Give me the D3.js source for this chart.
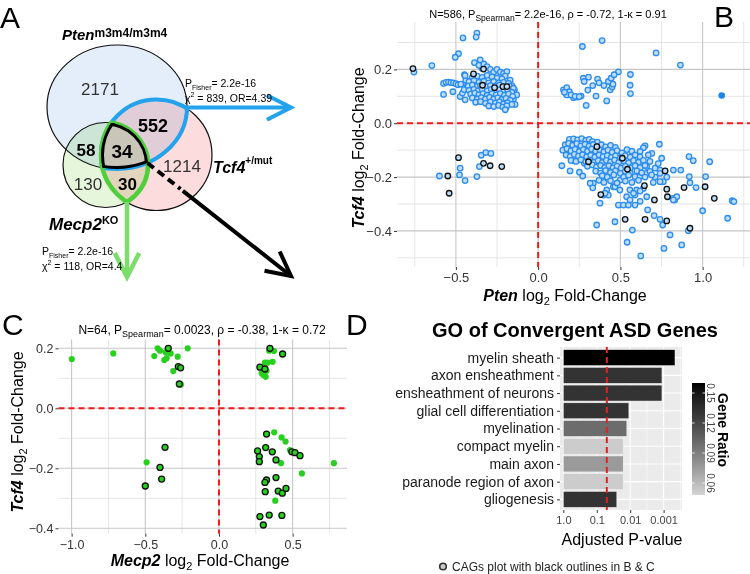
<!DOCTYPE html>
<meta charset="utf-8">
<style>
  body { margin: 0; background: #fff; }
  svg { font-family: "Liberation Sans", Arial, Helvetica, sans-serif; }
  .grid-major { stroke: #c6c6c6; stroke-width: 1.1; }
  .grid-minor { stroke: #e0e0e0; stroke-width: 0.8; }
  .zero { stroke: #ee1c1c; stroke-width: 2; stroke-dasharray: 6,4; fill: none; }
  .tag { font-size: 30px; fill: #000; }
</style>
<svg width="750" height="574"></svg>
<script src="https://d3js.org/d3.v7.min.js"></script>
<script>

// ---------------- data ----------------
// panel A : venn counts
var vennRegions = ["Pten only", "Pten+Tcf4", "Tcf4 only", "Pten+Mecp2", "all three", "Mecp2 only", "Tcf4+Mecp2"];
var vennCounts  = [2171, 552, 1214, 58, 34, 130, 30];

// panel B : Pten vs Tcf4 log2 fold-change
var bOpen = [
  [-0.755,0.19],[-0.646,0.214],[-0.457,0.317],[-0.372,0.335],[-0.377,0.32],[-0.484,0.258],[-0.504,0.245],
  [-0.575,0.148],[-0.56,0.152],[-0.545,0.153],[-0.53,0.151],[-0.515,0.15],[-0.5,0.147],[-0.487,0.143],[-0.47,0.145],
  [-0.575,0.107],[-0.518,0.117],[-0.474,0.099],[-0.46,0.112],[-0.45,0.125],[-0.444,0.087],[-0.448,0.18],[-0.44,0.16],[-0.43,0.14],[-0.444,0.177],
  [-0.387,0.225],[-0.352,0.235],[-0.342,0.204],[-0.36,0.215],[-0.33,0.22],[-0.31,0.21],[-0.29,0.2],[-0.27,0.19],[-0.25,0.2],
  [-0.23,0.19],[-0.21,0.185],[-0.19,0.192],[-0.2,0.175],[-0.17,0.16],[-0.16,0.14],[-0.144,0.124],[-0.13,0.105],[-0.194,0.059],[-0.15,0.09],[-0.14,0.07],
  [-0.40,0.17],[-0.37,0.175],[-0.34,0.17],[-0.31,0.178],[-0.28,0.172],[-0.25,0.168],[-0.22,0.165],
  [-0.42,0.155],[-0.39,0.158],[-0.36,0.152],[-0.33,0.156],[-0.30,0.15],[-0.27,0.155],[-0.24,0.15],[-0.21,0.152],[-0.18,0.148],
  [-0.425,0.138],[-0.40,0.142],[-0.37,0.136],[-0.35,0.14],[-0.32,0.135],[-0.29,0.14],[-0.26,0.138],[-0.235,0.142],[-0.205,0.135],[-0.175,0.138],[-0.15,0.13],
  [-0.42,0.122],[-0.39,0.126],[-0.365,0.12],[-0.34,0.125],[-0.31,0.12],[-0.285,0.126],[-0.26,0.12],[-0.235,0.124],[-0.21,0.118],[-0.185,0.124],[-0.16,0.115],
  [-0.41,0.108],[-0.385,0.112],[-0.36,0.105],[-0.335,0.11],[-0.31,0.104],[-0.28,0.11],[-0.255,0.105],[-0.23,0.11],[-0.205,0.104],[-0.18,0.108],[-0.155,0.1],
  [-0.4,0.094],[-0.37,0.09],[-0.345,0.095],[-0.32,0.09],[-0.295,0.096],[-0.27,0.09],[-0.245,0.094],[-0.22,0.088],[-0.195,0.092],[-0.17,0.085],
  [-0.38,0.078],[-0.35,0.08],[-0.32,0.074],[-0.29,0.079],[-0.26,0.075],[-0.235,0.079],[-0.21,0.072],[-0.185,0.076],[-0.16,0.07],
  [-0.3,0.064],[-0.27,0.062],[-0.24,0.066],[-0.215,0.06],[-0.19,0.065],[-0.2,0.05],
  [-0.474,-0.167],[-0.478,-0.192],[-0.6,-0.196],[-0.444,-0.213],[-0.372,-0.198],[-0.357,-0.161],[-0.346,-0.119],[-0.318,-0.109],[-0.287,-0.112],
  [0.269,0.285],[0.389,0.307],[0.717,0.261],[0.865,0.216],[0.488,0.191],[0.561,0.181],[0.559,0.141],[0.561,0.110],
  [0.275,0.167],[0.306,0.171],[0.28,0.155],[0.361,0.164],[0.37,0.15],[0.332,0.140],[0.302,0.123],[0.352,0.101],
  [0.427,0.155],[0.444,0.167],[0.462,0.180],[0.438,0.124],[0.45,0.135],[0.417,0.083],[0.292,0.066],
  [0.154,0.124],[0.174,0.132],[0.19,0.117],[0.215,0.095],[0.239,0.097],[0.261,0.101],[0.174,0.105],[0.16,0.115],[0.2,0.105],[0.225,0.1],[0.25,0.099],[0.4,0.14],[0.455,0.145],
  [0.144,-0.158],[0.194,-0.177],[0.218,-0.139],[0.251,-0.182],[0.281,-0.149],[0.271,-0.196],[0.336,-0.223],[0.376,-0.297],[0.356,-0.378],
  [0.467,-0.366],[0.488,-0.304],[0.518,-0.304],[0.549,-0.304],[0.541,-0.442],[0.573,-0.397],[0.624,-0.493],[0.666,-0.322],[0.705,-0.343],
  [0.741,-0.357],[0.757,-0.378],[0.765,-0.465],[0.802,-0.415],[0.873,-0.452],[0.913,-0.399],[1.0,-0.325],[1.152,-0.353],[1.18,-0.288],[1.19,-0.291],
  [1.018,-0.198],[1.043,-0.143],[0.943,-0.139],[0.917,-0.124],[0.923,-0.221],[0.919,-0.198],[0.96,-0.239],[0.867,-0.174],[0.822,-0.174],[0.741,-0.174],
  [0.737,-0.078],[0.65,-0.084],[0.691,-0.112],[0.761,-0.217],[0.782,-0.2],[0.818,-0.279],[0.83,-0.285],[0.66,-0.273],[0.64,-0.242],[0.599,-0.248],
  [0.589,-0.267],[0.558,-0.248],[0.538,-0.273],[0.497,-0.248],[0.457,-0.236],[0.427,-0.267],[0.397,-0.267],[0.417,-0.248],[0.316,-0.223],[0.332,-0.24],
  [0.64,-0.091],[0.62,-0.105],[0.67,-0.118],[0.62,-0.149],[0.66,-0.161],[0.711,-0.167],[0.73,-0.15],[0.751,-0.13],[0.741,-0.186],[0.711,-0.2],[0.741,-0.217],
  [0.843,-0.273],[0.822,-0.285],[0.62,-0.252],[0.58,-0.26],[0.559,-0.285],[0.589,-0.304],[0.62,-0.29],[0.467,-0.236],[0.407,-0.26],[0.437,-0.198],
  [0.498,-0.211],[0.528,-0.198],[0.589,-0.198],[0.62,-0.198],[0.66,-0.186],
  [0.19,-0.06],[0.215,-0.058],[0.24,-0.062],[0.265,-0.057],[0.29,-0.064],[0.31,-0.06],[0.33,-0.068],[0.36,-0.07],
  [0.165,-0.08],[0.185,-0.075],[0.21,-0.082],[0.235,-0.076],[0.26,-0.084],[0.285,-0.078],[0.31,-0.085],[0.335,-0.079],[0.36,-0.086],[0.385,-0.08],[0.41,-0.088],[0.44,-0.082],[0.47,-0.09],
  [0.15,-0.1],[0.175,-0.095],[0.2,-0.103],[0.225,-0.097],[0.25,-0.105],[0.275,-0.098],[0.3,-0.104],[0.325,-0.096],[0.35,-0.104],[0.375,-0.099],[0.4,-0.106],[0.425,-0.1],[0.45,-0.108],[0.48,-0.102],[0.51,-0.11],[0.54,-0.098],[0.57,-0.104],
  [0.17,-0.118],[0.195,-0.124],[0.22,-0.116],[0.245,-0.122],[0.27,-0.117],[0.295,-0.125],[0.32,-0.119],[0.345,-0.126],[0.37,-0.118],[0.395,-0.124],[0.42,-0.12],[0.445,-0.127],[0.47,-0.121],[0.5,-0.128],[0.53,-0.12],[0.56,-0.126],[0.59,-0.118],[0.62,-0.125],
  [0.2,-0.138],[0.23,-0.142],[0.26,-0.136],[0.29,-0.143],[0.315,-0.137],[0.34,-0.145],[0.365,-0.139],[0.39,-0.146],[0.415,-0.138],[0.44,-0.144],[0.465,-0.137],[0.49,-0.146],[0.52,-0.14],[0.55,-0.147],[0.58,-0.139],[0.61,-0.145],[0.64,-0.138],[0.68,-0.142],
  [0.3,-0.16],[0.33,-0.155],[0.355,-0.163],[0.38,-0.157],[0.405,-0.165],[0.43,-0.158],[0.455,-0.166],[0.48,-0.159],[0.505,-0.167],[0.53,-0.16],[0.56,-0.166],[0.59,-0.158],[0.62,-0.165],[0.65,-0.157],
  [0.35,-0.178],[0.38,-0.185],[0.41,-0.176],[0.44,-0.183],[0.47,-0.177],[0.5,-0.186],[0.53,-0.179],[0.56,-0.185],[0.6,-0.177],[0.63,-0.184],[0.68,-0.179],
  [0.39,-0.195],[0.42,-0.2],[0.46,-0.192],[0.52,-0.2],[0.55,-0.193],[0.65,-0.2],[0.69,-0.192],
  [0.37,-0.212],[0.4,-0.22],[0.44,-0.214],[0.48,-0.222],[0.53,-0.215],[0.57,-0.22],[0.61,-0.212],[0.7,-0.22]
];
var bCags = [
  [-0.761,0.203],[-0.393,0.183],[-0.338,0.141],[-0.332,0.201],[-0.265,0.132],[-0.214,0.136],[-0.19,0.136],
  [-0.484,-0.128],[-0.549,-0.196],[-0.541,-0.260],[-0.332,-0.149],[-0.292,-0.158],[-0.221,-0.161],
  [0.381,-0.265],[0.529,-0.357],[0.650,-0.357],[0.782,-0.363],[0.923,-0.390],[1.071,-0.279],[1.015,-0.236],[0.887,-0.239],
  [0.772,-0.177],[0.782,-0.245],[0.786,-0.273],[0.707,-0.285],[0.646,-0.232],[0.543,-0.171],[0.512,-0.130],[0.357,-0.087],[0.306,-0.143]
];
var bSolid = [[1.116,0.103]];

// panel C : Mecp2 vs Tcf4 log2 fold-change
var cGreen = [
  [-0.999,0.164],[-0.717,0.183],[-0.416,0.2],[-0.439,0.174],[-0.4,0.192],[-0.362,0.187],[-0.328,0.183],[-0.371,0.161],[-0.355,0.167],
  [-0.28,0.172],[-0.212,0.2],[-0.31,0.124],[-0.258,0.079],
  [0.341,0.192],[0.373,0.191],[0.364,0.155],[0.312,0.152],[0.33,0.152],[0.323,0.125],[0.29,0.117],[0.301,0.111],[0.317,0.105],
  [0.375,-0.08],[0.425,-0.097],[0.452,-0.111],[0.482,-0.139],[0.421,-0.183],[-0.491,-0.18],[0.78,-0.183],[0.563,-0.217],[0.382,-0.308]
];
var cCags = [
  [-0.344,0.2],[-0.276,0.139],[-0.26,0.135],[-0.269,0.081],[0.346,0.2],[0.432,0.181],[0.278,0.137],[0.312,0.131],[0.323,-0.086],
  [-0.366,-0.13],[0.317,-0.131],[0.262,-0.142],[0.362,-0.145],[0.495,-0.145],[0.516,-0.148],[0.55,-0.158],[0.274,-0.161],[0.274,-0.178],
  [0.387,-0.172],[-0.4,-0.197],[-0.389,-0.236],[-0.5,-0.259],[0.387,-0.231],[0.323,-0.239],[0.312,-0.247],[0.314,-0.278],[0.402,-0.276],
  [0.43,-0.283],[0.455,-0.267],[0.278,-0.361],[0.341,-0.356],[0.427,-0.357],[0.301,-0.389]
];

// panel D : GO terms
var goTerms = ["myelin sheath", "axon ensheathment", "ensheathment of neurons", "glial cell differentiation",
               "myelination", "compact myelin", "main axon", "paranode region of axon", "gliogenesis"];
var goNegLogP = [3.34, 2.95, 2.95, 1.96, 1.90, 1.79, 1.79, 1.79, 1.60];
var goRatio   = [0.160, 0.132, 0.132, 0.132, 0.100, 0.052, 0.076, 0.052, 0.132];
var pCut = 0.05;

// tick values / labels
var bTicksX = [-0.5, 0, 0.5, 1.0], bTicksY = [-0.4, -0.2, 0, 0.2];
var bMinorX = [-0.75, -0.25, 0.25, 0.75, 1.25], bMinorY = [-0.5, -0.3, -0.1, 0.1, 0.3];
var cTicksX = [-1.0, -0.5, 0, 0.5], cTicksY = [-0.4, -0.2, 0, 0.2];
var cMinorX = [-0.75, -0.25, 0.25, 0.75], cMinorY = [-0.3, -0.1, 0.1];
var dTickVals = [0, 1, 2, 3], dTickLabels = ["1.0", "0.1", "0.01", "0.001"];
var ratioTicks = [0.06, 0.09, 0.12, 0.15];

// ---------------- helpers ----------------
var svg = d3.select("svg");
var defs = svg.append("defs");

function rich(parent, x, y, anchor, size, parts) {
  var t = parent.append("text").attr("x", x).attr("y", y)
    .attr("text-anchor", anchor).attr("font-size", size).attr("fill", "#000");
  parts.forEach(function (p) {
    var s = t.append("tspan").text(p.t);
    if (p.size) s.attr("font-size", p.size);
    if (p.dy) s.attr("dy", p.dy);
    if (p.b) s.attr("font-weight", "bold");
    if (p.i) s.attr("font-style", "italic");
  });
  return t;
}

function styleAxis(g, size, color) {
  g.select(".domain").remove();
  g.selectAll(".tick line").attr("stroke", "#333");
  g.selectAll(".tick text").attr("font-size", size).attr("fill", color)
    .attr("font-family", "Liberation Sans, Arial, sans-serif");
}

function scatter(o) {
  var g = svg.append("g");
  var x = d3.scaleLinear().domain(o.xDomain).range([o.left, o.right]);
  var y = d3.scaleLinear().domain(o.yDomain).range([o.bottom, o.top]);

  g.selectAll(null).data(o.xMinor).enter().append("line").attr("class", "grid-minor")
    .attr("x1", x).attr("x2", x).attr("y1", o.top).attr("y2", o.bottom);
  g.selectAll(null).data(o.yMinor).enter().append("line").attr("class", "grid-minor")
    .attr("y1", y).attr("y2", y).attr("x1", o.left).attr("x2", o.right);
  g.selectAll(null).data(o.xTicks).enter().append("line").attr("class", "grid-major")
    .attr("x1", x).attr("x2", x).attr("y1", o.top).attr("y2", o.bottom);
  g.selectAll(null).data(o.yTicks).enter().append("line").attr("class", "grid-major")
    .attr("y1", y).attr("y2", y).attr("x1", o.left).attr("x2", o.right);

  g.append("line").attr("class", "zero").attr("x1", x(0)).attr("x2", x(0)).attr("y1", o.top).attr("y2", o.bottom);
  g.append("line").attr("class", "zero").attr("y1", y(0)).attr("y2", y(0)).attr("x1", o.left).attr("x2", o.right);

  o.layers.forEach(function (L) {
    g.append("g").selectAll("circle").data(L.data).enter().append("circle")
      .attr("cx", function (d) { return x(d[0]); })
      .attr("cy", function (d) { return y(d[1]); })
      .attr("r", L.r).attr("fill", L.fill)
      .attr("stroke", L.stroke || "none").attr("stroke-width", L.sw || 0);
  });

  var fmt = d3.format(".1f");
  var ax = g.append("g").attr("transform", "translate(0," + o.bottom + ")")
    .call(d3.axisBottom(x).tickValues(o.xTicks).tickSize(3).tickPadding(3).tickFormat(fmt));
  styleAxis(ax, o.tickFont, "#333");
  var ay = g.append("g").attr("transform", "translate(" + o.left + ",0)")
    .call(d3.axisLeft(y).tickValues(o.yTicks).tickSize(3).tickPadding(2).tickFormat(fmt));
  styleAxis(ay, o.tickFont, "#333");

  rich(g, o.title[0], o.title[1], "middle", o.titleFont, o.titleParts);
  rich(g, o.xLab[0], o.xLab[1], "middle", o.labFont,
    [{t: o.xName, b: 1, i: 1}, {t: " log"}, {t: "2", size: 11, dy: 4}, {t: " Fold-Change", dy: -4}]);
  var yl = g.append("g").attr("transform", "translate(" + o.yLab[0] + "," + o.yLab[1] + ") rotate(-90)");
  rich(yl, 0, 0, "middle", o.labFont,
    [{t: "Tcf4", b: 1, i: 1}, {t: " log"}, {t: "2", size: 11, dy: 4}, {t: " Fold-Change", dy: -4}]);
}

// ---------------- panel A : venn ----------------
var blue = "#23a2ee", green = "#4fcf3b", greenArrow = "#7ade69";
var vennShapes = [
  {key: "pten",  cx: 117,   cy: 107, rx: 70,   ry: 62,   fill: "#e3eefa"},
  {key: "tcf4",  cx: 156.5, cy: 155, rx: 55.5, ry: 55.5, fill: "#fcdcdc"},
  {key: "mecp2", cx: 105.5, cy: 165, rx: 42.5, ry: 42.5, fill: "#e5f6db"}
];
var S = {};
vennShapes.forEach(function (s) {
  S[s.key] = s;
  defs.append("clipPath").attr("id", "in-" + s.key).append("ellipse")
    .attr("cx", s.cx).attr("cy", s.cy).attr("rx", s.rx).attr("ry", s.ry);
  defs.append("clipPath").attr("id", "near-" + s.key).append("ellipse")
    .attr("cx", s.cx).attr("cy", s.cy).attr("rx", s.rx + 2.2).attr("ry", s.ry + 2.2);
});

var venn = svg.append("g");
venn.selectAll("ellipse.fill").data(vennShapes).enter().append("ellipse")
  .attr("class", "fill")
  .attr("cx", function (d) { return d.cx; }).attr("cy", function (d) { return d.cy; })
  .attr("rx", function (d) { return d.rx; }).attr("ry", function (d) { return d.ry; })
  .attr("fill", function (d) { return d.fill; })
  .style("mix-blend-mode", "multiply");
venn.selectAll("ellipse.edge").data(vennShapes).enter().append("ellipse")
  .attr("class", "edge")
  .attr("cx", function (d) { return d.cx; }).attr("cy", function (d) { return d.cy; })
  .attr("rx", function (d) { return d.rx; }).attr("ry", function (d) { return d.ry; })
  .attr("fill", "none").attr("stroke", "#111").attr("stroke-width", 1.2);

function clippedStroke(s, clips, color, width) {
  var g = venn;
  clips.forEach(function (c) { g = g.append("g").attr("clip-path", "url(#" + c + ")"); });
  g.append("ellipse").attr("cx", s.cx).attr("cy", s.cy).attr("rx", s.rx).attr("ry", s.ry)
    .attr("fill", "none").attr("stroke", color).attr("stroke-width", width);
}
clippedStroke(S.pten, ["near-tcf4"], blue, 4);
clippedStroke(S.tcf4, ["near-pten"], blue, 4);
clippedStroke(S.tcf4, ["near-mecp2"], green, 4.5);
clippedStroke(S.mecp2, ["near-tcf4"], green, 4.5);
["pten", "tcf4", "mecp2"].forEach(function (k) {
  clippedStroke(S[k], ["in-pten", "in-tcf4", "in-mecp2"], "#000", 6);
});

// region counts
var vennLabelPos = [[100, 95, 17, 0], [153, 132, 18, 1], [182, 172, 17, 0], [86, 156, 17, 1],
                    [122, 158, 19, 1], [88, 190, 17, 0], [127.5, 190, 17, 1]];
vennCounts.forEach(function (c, i) {
  var p = vennLabelPos[i];
  venn.append("text").attr("x", p[0]).attr("y", p[1]).attr("text-anchor", "middle")
    .attr("font-size", p[2]).attr("font-weight", p[3] ? "bold" : "normal")
    .attr("fill", p[3] ? "#000" : "#333").text(c);
});

// arrows
function arrow(from, to, color, width, dashLen) {
  var dx = to[0] - from[0], dy = to[1] - from[1], len = Math.sqrt(dx * dx + dy * dy);
  var ux = dx / len, uy = dy / len;
  if (dashLen) {
    venn.append("line").attr("x1", from[0]).attr("y1", from[1])
      .attr("x2", from[0] + ux * dashLen).attr("y2", from[1] + uy * dashLen)
      .attr("stroke", color).attr("stroke-width", width).attr("stroke-dasharray", "8,5");
    from = [from[0] + ux * (dashLen + 3), from[1] + uy * (dashLen + 3)];
  }
  venn.append("line").attr("x1", from[0]).attr("y1", from[1]).attr("x2", to[0]).attr("y2", to[1])
    .attr("stroke", color).attr("stroke-width", width);
  var a = 27 * Math.PI / 180, hl = 27;
  var w1 = [to[0] - hl * (ux * Math.cos(a) - uy * Math.sin(a)), to[1] - hl * (uy * Math.cos(a) + ux * Math.sin(a))];
  var w2 = [to[0] - hl * (ux * Math.cos(a) + uy * Math.sin(a)), to[1] - hl * (uy * Math.cos(a) - ux * Math.sin(a))];
  venn.append("path").attr("d", "M" + w1 + "L" + to + "L" + w2)
    .attr("fill", "none").attr("stroke", color).attr("stroke-width", width).attr("stroke-linejoin", "miter");
}
arrow([186, 107.5], [291, 107.5], blue, 4);
arrow([127, 202], [127, 277], greenArrow, 4.5);
arrow([147.5, 163], [291, 276], "#000", 4, 42);

// set names
rich(venn, 62, 40, "start", 15, [{t: "Pten", b: 1, i: 1}, {t: "m3m4/m3m4", size: 12, b: 1, dy: -3}]);
rich(venn, 213, 173, "start", 16, [{t: "Tcf4", b: 1, i: 1}, {t: "+/mut", size: 10, b: 1, dy: -9}]);
rich(venn, 49, 230, "start", 17, [{t: "Mecp2", b: 1, i: 1}, {t: "KO", size: 11, b: 1, dy: -6}]);

// enrichment stats
function stats(x, y, chi, or) {
  rich(venn, x, y, "start", 10.5, [{t: "P"}, {t: "Fisher", size: 7, dy: 2.5}, {t: "= 2.2e-16", dy: -2.5}]);
  rich(venn, x, y + 14.5, "start", 10.5, [{t: "χ"}, {t: "2", size: 7, dy: -5}, {t: " = " + chi + ", OR=" + or, dy: 5}]);
}
stats(185, 87, 839, "4.39");
stats(42, 255, 118, "4.4");

// ---------------- panel B ----------------
scatter({
  left: 397, right: 750, top: 22, bottom: 267,
  xDomain: [-0.858, 1.288], yDomain: [-0.534, 0.376],
  xTicks: bTicksX, yTicks: bTicksY, xMinor: bMinorX, yMinor: bMinorY,
  layers: [
    {data: bOpen, r: 2.75, fill: "#bcdcf7", stroke: "#2b8cef", sw: 1.3},
    {data: bCags, r: 2.75, fill: "#bcdcf7", stroke: "#111", sw: 1.3},
    {data: bSolid, r: 3.3, fill: "#1f86e8"}
  ],
  tickFont: 13, titleFont: 11, labFont: 16,
  title: [548, 18],
  titleParts: [{t: "N=586, P"}, {t: "Spearman", size: 8.5, dy: 3}, {t: "= 2.2e-16, ρ = -0.72, 1-κ = 0.91", dy: -3}],
  xName: "Pten", xLab: [565, 301], yLab: [364, 148]
});

// ---------------- panel C ----------------
scatter({
  left: 58.5, right: 347, top: 339.6, bottom: 533.7,
  xDomain: [-1.089, 0.869], yDomain: [-0.418, 0.229],
  xTicks: cTicksX, yTicks: cTicksY, xMinor: cMinorX, yMinor: cMinorY,
  layers: [
    {data: cGreen, r: 3.1, fill: "#27cf1f"},
    {data: cCags, r: 3, fill: "#27cf1f", stroke: "#111", sw: 1.3}
  ],
  tickFont: 12.5, titleFont: 12, labFont: 16,
  title: [202, 334],
  titleParts: [{t: "N=64, P"}, {t: "Spearman", size: 9, dy: 3}, {t: "= 0.0023, ρ = -0.38, 1-κ = 0.72", dy: -3}],
  xName: "Mecp2", xLab: [200, 566], yLab: [23, 432]
});

// ---------------- panel D ----------------
var D = {left: 560, right: 682, top: 347, bottom: 510};
var dg = svg.append("g");
var dx = d3.scaleLinear().domain([-0.1, 3.55]).range([D.left, D.right]);
var dy = d3.scalePoint().domain(goTerms).range([D.top, D.bottom]).padding(0.6);
var ratioColor = d3.scaleLinear().domain([0.048, 0.16]).range(["#d4d4d4", "#000000"]).interpolate(d3.interpolateLab);

dg.append("rect").attr("x", D.left).attr("y", D.top).attr("width", D.right - D.left)
  .attr("height", D.bottom - D.top).attr("fill", "#ebebeb");
dg.selectAll(null).data([0.5, 1.5, 2.5, 3.5]).enter().append("line")
  .attr("x1", dx).attr("x2", dx).attr("y1", D.top).attr("y2", D.bottom)
  .attr("stroke", "#fff").attr("stroke-width", 0.55);
dg.selectAll(null).data(dTickVals).enter().append("line")
  .attr("x1", dx).attr("x2", dx).attr("y1", D.top).attr("y2", D.bottom)
  .attr("stroke", "#fff").attr("stroke-width", 1.1);
dg.selectAll(null).data(goTerms).enter().append("line")
  .attr("y1", dy).attr("y2", dy).attr("x1", D.left).attr("x2", D.right)
  .attr("stroke", "#fff").attr("stroke-width", 1.1);

var bh = dy.step() * 0.9;
dg.selectAll("rect.bar").data(goTerms).enter().append("rect").attr("class", "bar")
  .attr("x", dx(0)).attr("y", function (d) { return dy(d) - bh / 2; })
  .attr("width", function (d, i) { return dx(goNegLogP[i]) - dx(0); })
  .attr("height", bh)
  .attr("fill", function (d, i) { return ratioColor(goRatio[i]); })
  .attr("stroke", "#f4f4f4").attr("stroke-width", 0.5);

dg.append("line").attr("class", "zero")
  .attr("x1", dx(-Math.log10(pCut))).attr("x2", dx(-Math.log10(pCut)))
  .attr("y1", D.top).attr("y2", D.bottom);

var dax = dg.append("g").attr("transform", "translate(0," + D.bottom + ")")
  .call(d3.axisBottom(dx).tickValues(dTickVals).tickSize(3).tickPadding(3)
    .tickFormat(function (d, i) { return dTickLabels[i]; }));
styleAxis(dax, 11, "#444");
var day = dg.append("g").attr("transform", "translate(" + D.left + ",0)")
  .call(d3.axisLeft(dy).tickSize(3).tickPadding(3));
styleAxis(day, 14, "#1a1a1a");

dg.append("text").attr("x", 575).attr("y", 337).attr("text-anchor", "middle")
  .attr("font-size", 20).attr("font-weight", "bold").text("GO of Convergent ASD Genes");
dg.append("text").attr("x", 622).attr("y", 545).attr("text-anchor", "middle")
  .attr("font-size", 16).text("Adjusted P-value");

// colour bar
var CB = {x: 692, w: 13, top: 383, bottom: 495};
var cby = d3.scaleLinear().domain(ratioColor.domain()).range([CB.bottom, CB.top]);
var grad = defs.append("linearGradient").attr("id", "ratioGrad")
  .attr("x1", 0).attr("y1", 1).attr("x2", 0).attr("y2", 0);
grad.selectAll("stop").data(d3.range(0, 11)).enter().append("stop")
  .attr("offset", function (d) { return d * 10 + "%"; })
  .attr("stop-color", function (d) {
    var dom = ratioColor.domain();
    return ratioColor(dom[0] + (dom[1] - dom[0]) * d / 10);
  });
dg.append("rect").attr("x", CB.x).attr("y", CB.top).attr("width", CB.w)
  .attr("height", CB.bottom - CB.top).attr("fill", "url(#ratioGrad)");
ratioTicks.forEach(function (t) {
  var yy = cby(t);
  dg.append("line").attr("x1", CB.x).attr("x2", CB.x + 2.5).attr("y1", yy).attr("y2", yy)
    .attr("stroke", "#fff").attr("stroke-width", 0.8);
  dg.append("line").attr("x1", CB.x + CB.w - 2.5).attr("x2", CB.x + CB.w).attr("y1", yy).attr("y2", yy)
    .attr("stroke", "#fff").attr("stroke-width", 0.8);
  dg.append("text").attr("transform", "translate(707," + yy + ") rotate(90)")
    .attr("text-anchor", "middle").attr("font-size", 10).attr("fill", "#444")
    .text(d3.format(".2f")(t));
});
dg.append("text").attr("transform", "translate(718,430) rotate(90)")
  .attr("text-anchor", "middle").attr("font-size", 14).attr("font-weight", "bold").text("Gene Ratio");

// footnote legend
svg.append("circle").attr("cx", 443).attr("cy", 566.5).attr("r", 3.3)
  .attr("fill", "#c8c8c8").attr("stroke", "#333").attr("stroke-width", 1.6);
svg.append("text").attr("x", 452).attr("y", 571).attr("font-size", 12).attr("fill", "#222")
  .text("CAGs plot with black outlines in B & C");

// panel tags
svg.append("text").attr("class", "tag").attr("x", 0).attr("y", 28).text("A");
svg.append("text").attr("class", "tag").attr("x", 714).attr("y", 27).text("B");
svg.append("text").attr("class", "tag").attr("x", 2).attr("y", 335).text("C");
svg.append("text").attr("class", "tag").attr("x", 346).attr("y", 335).text("D");

</script>
